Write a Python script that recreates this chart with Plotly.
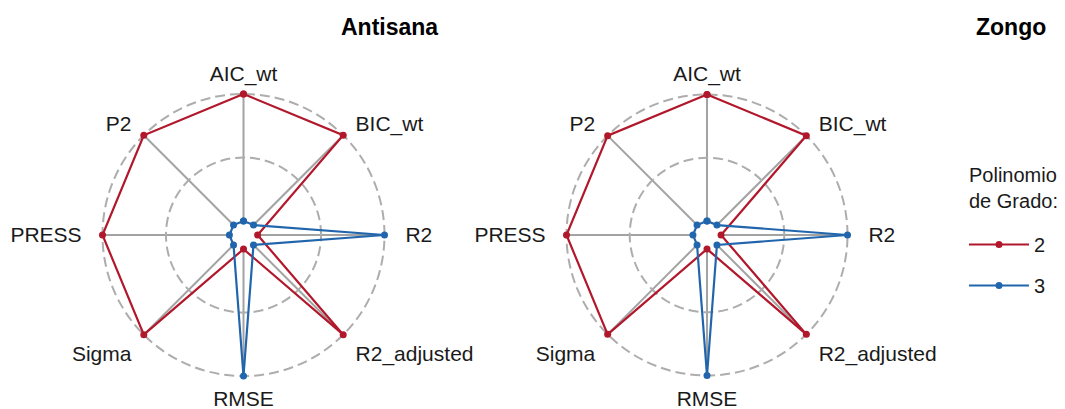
import plotly.graph_objects as go

# ---- data ----
metrics = ["AIC_wt", "BIC_wt", "R2", "R2_adjusted", "RMSE", "Sigma", "PRESS", "P2"]
sites = ["Antisana", "Zongo"]
grado2_antisana = [1, 1, 0, 1, 0, 1, 1, 1]
grado3_antisana = [0, 0, 1, 0, 1, 0, 0, 0]
grado2_zongo = [1, 1, 0, 1, 0, 1, 1, 1]
grado3_zongo = [0, 0, 1, 0, 1, 0, 0, 0]
series_names = ["2", "3"]
legend_title = "Polinomio<br>de Grado:"
grid_values = [0.5, 1.0]

values = {
    "Antisana": [grado2_antisana, grado3_antisana],
    "Zongo": [grado2_zongo, grado3_zongo],
}

# ---- style ----
colors = ["#B2182B", "#2166AC"]
FONT = "Liberation Sans, Arial, sans-serif"
NB = "\u00a0"
R_MIN = -1 / 9       # ggradar centre offset
R_MAX = 1.02         # a touch beyond 1 so the outer grid circle is drawn

n = len(metrics)
tick_text = []
for i, m in enumerate(metrics):
    ang = 360 * i / n
    pad = 0 if ang in (0, 180) else (2 if ang in (90, 270) else 1)
    if 0 < ang < 180:
        tick_text.append(NB * pad + m)
    elif ang > 180:
        tick_text.append(m + NB * pad)
    else:
        tick_text.append(m)

fig = go.Figure()

for si, site in enumerate(sites):
    subplot = "polar" if si == 0 else "polar2"
    fig.add_trace(go.Scatterpolar(
        r=[0] * (n + 1), theta=metrics + [metrics[0]],
        mode="lines", fill="toself", fillcolor="white",
        line=dict(width=0, color="white"),
        showlegend=False, hoverinfo="skip", subplot=subplot,
    ))
    for k, name in enumerate(series_names):
        v = values[site][k]
        fig.add_trace(go.Scatterpolar(
            r=v + [v[0]],
            theta=metrics + [metrics[0]],
            mode="lines+markers",
            name=name,
            legendgroup=name,
            showlegend=(si == 0),
            line=dict(color=colors[k], width=2.2),
            marker=dict(color=colors[k], size=7),
            cliponaxis=False,
            subplot=subplot,
        ))

W, H = 1065, 409
OFF = 8  # browser body margin
panels = [  # (centre x, centre y, pixel radius of value 1)
    (243.5 - OFF, 235.0 - OFF, 141.0),
    (707.0 - OFF, 235.0 - OFF, 140.5),
]


def polar_layout(cx, cy, r1):
    R = r1 * (R_MAX - R_MIN) / (1 - R_MIN)
    return dict(
        domain=dict(
            x=[(cx - R) / W, (cx + R) / W],
            y=[(H - cy - R) / H, (H - cy + R) / H],
        ),
        bgcolor="white",
        radialaxis=dict(
            range=[R_MIN, R_MAX],
            tickvals=grid_values,
            showticklabels=False,
            ticks="",
            showline=False,
            gridcolor="#adadad",
            griddash="10px,5px",
            gridwidth=1.5,
        ),
        angularaxis=dict(
            type="category",
            categoryarray=metrics,
            tickmode="array",
            tickvals=metrics,
            ticktext=tick_text,
            rotation=90,
            direction="clockwise",
            showline=False,
            gridcolor="#a3a3a3",
            gridwidth=1.5,
            ticks="outside",
            ticklen=2,
            tickcolor="rgba(0,0,0,0)",
            tickfont=dict(size=21, color="#1a1a1a", family=FONT),
        ),
    )


fig.update_layout(
    width=W, height=H,
    margin=dict(l=0, r=0, t=0, b=0),
    paper_bgcolor="white",
    plot_bgcolor="white",
    font=dict(family=FONT, color="#1a1a1a"),
    polar=polar_layout(*panels[0]),
    polar2=polar_layout(*panels[1]),
    legend=dict(
        font=dict(size=20, family=FONT),
        x=(964 - OFF) / W, y=1 - (225 - OFF) / H, xanchor="left", yanchor="top",
        bgcolor="rgba(0,0,0,0)",
        tracegroupgap=12,
        itemwidth=60,
    ),
    annotations=[
        dict(text="<b>Antisana</b>", x=(389 - OFF) / W, y=1 - (27 - OFF) / H,
             xref="paper", yref="paper", xanchor="center", yanchor="middle",
             showarrow=False, font=dict(size=23, family=FONT, color="black")),
        dict(text="<b>Zongo</b>", x=(1011 - OFF) / W, y=1 - (27 - OFF) / H,
             xref="paper", yref="paper", xanchor="center", yanchor="middle",
             showarrow=False, font=dict(size=23, family=FONT, color="black")),
        dict(text=legend_title, x=(967 - OFF) / W, y=1 - (162 - OFF) / H,
             xref="paper", yref="paper", xanchor="left", yanchor="top", align="left",
             showarrow=False, font=dict(size=20, family=FONT, color="#1a1a1a")),
    ],
)

fig.write_html("out.html")
